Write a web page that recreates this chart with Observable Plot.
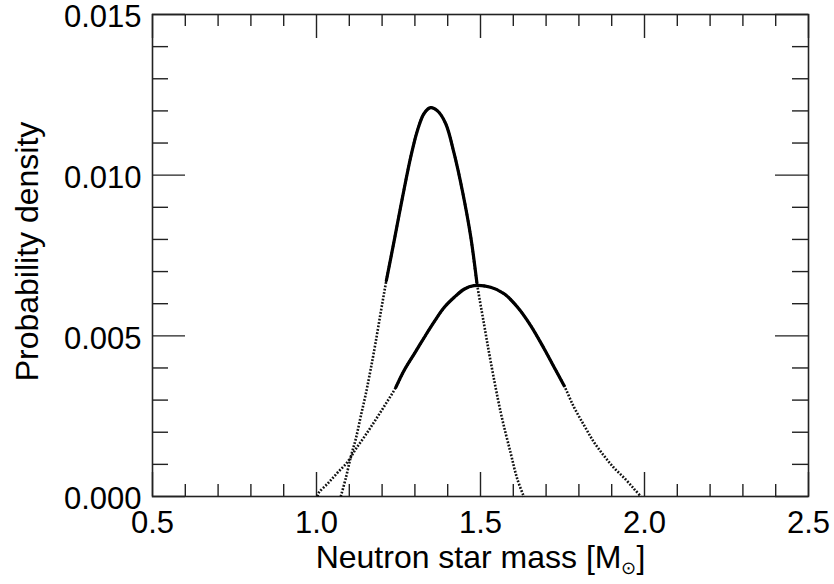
<!DOCTYPE html>
<html>
<head>
<meta charset="utf-8">
<script src="https://cdn.jsdelivr.net/npm/d3@7"></script>
<script src="https://cdn.jsdelivr.net/npm/@observablehq/plot@0.6"></script>
<style>
  html, body { margin: 0; padding: 0; background: #fff; }
  #chart { width: 834px; height: 584px; }
</style>
</head>
<body>
<div id="chart"></div>
<script>
// ---- data ----
const narrowMass = [1.074, 1.090, 1.105, 1.120, 1.135, 1.150, 1.165, 1.180, 1.197, 1.213,
  1.237, 1.262, 1.288, 1.308, 1.328, 1.348, 1.369, 1.394, 1.419, 1.445, 1.470, 1.489,
  1.511, 1.531, 1.562, 1.592, 1.612, 1.632];
const narrowDensity = [0.0, 0.00060, 0.00125, 0.00180, 0.00250, 0.00318, 0.00395, 0.00478, 0.00580, 0.00672,
  0.00797, 0.00930, 0.01060, 0.01140, 0.01192, 0.01210, 0.01200, 0.01160, 0.01070, 0.00950, 0.00810, 0.00665,
  0.00535, 0.00420, 0.00260, 0.00135, 0.00055, 0.0];
const narrowSolid = [1.213, 1.489];

const broadMass = [1.003, 1.008, 1.034, 1.064, 1.095, 1.120, 1.150, 1.181, 1.211, 1.242,
  1.267, 1.298, 1.328, 1.359, 1.389, 1.420, 1.450, 1.480, 1.531, 1.572, 1.613, 1.653, 1.694, 1.730, 1.755,
  1.785, 1.816, 1.846, 1.877, 1.907, 1.938, 1.968, 1.989];
const broadDensity = [0.0, 0.00013, 0.00040, 0.00074, 0.00108, 0.00148, 0.00192, 0.00240, 0.00288, 0.00340,
  0.00392, 0.00444, 0.00494, 0.00544, 0.00588, 0.00620, 0.00645, 0.00656, 0.00651, 0.00631, 0.00589, 0.00532, 0.00460, 0.00392, 0.00345,
  0.00278, 0.00221, 0.00169, 0.00126, 0.00089, 0.00058, 0.00024, 0.0];
const broadSolid = [1.242, 1.755];

const xTickValues = [0.5, 1.0, 1.5, 2.0, 2.5];
const yTickValues = [0.000, 0.005, 0.010, 0.015];
const xLabel = "Neutron star mass [M\u2299]";
const yLabel = "Probability density";

// ---- build tables ----
const rows = (xs, ys) => xs.map((x, i) => ({mass: x, density: ys[i]}));
const narrow = rows(narrowMass, narrowDensity);
const broad = rows(broadMass, broadDensity);
const within = (data, [a, b]) => data.filter(d => d.mass >= a - 1e-9 && d.mass <= b + 1e-9);

const W = 834, H = 584, mL = 152, mR = 26, mT = 14, mB = 88;
const frameW = W - mL - mR, frameH = H - mT - mB;
const near = (v, arr) => arr.some(t => Math.abs(t - v) < 1e-9);
const xMinor = d3.range(5, 26).map(i => i / 10).filter(v => !near(v, xTickValues));
const yMinor = d3.range(0, 16).map(i => i / 1000).filter(v => !near(v, yTickValues));
const xMaj = 24, xMin = 12, yMaj = 33, yMin = 16;
const tickStyle = {stroke: "#222", strokeWidth: 1.4};
const dotted = {stroke: "#111", strokeWidth: 2.6, strokeDasharray: "1.8,1.6", strokeLinecap: "butt", curve: "catmull-rom"};
const solidLine = {stroke: "#000", strokeWidth: 3.2, curve: "catmull-rom"};

const chart = Plot.plot({
  width: W, height: H,
  marginLeft: mL, marginRight: mR, marginTop: mT, marginBottom: mB,
  x: {domain: [0.5, 2.5]},
  y: {domain: [0, 0.015]},
  style: {fontFamily: "'Liberation Sans', Arial, sans-serif", fontSize: "31px", color: "#000", background: "#fff", overflow: "visible"},
  marks: [
    // inward ticks on all four sides
    Plot.tickX(xTickValues, {x: d => d, insetTop: frameH - xMaj, ...tickStyle}),
    Plot.tickX(xTickValues, {x: d => d, insetBottom: frameH - xMaj, ...tickStyle}),
    Plot.tickX(xMinor, {x: d => d, insetTop: frameH - xMin, ...tickStyle}),
    Plot.tickX(xMinor, {x: d => d, insetBottom: frameH - xMin, ...tickStyle}),
    Plot.tickY(yTickValues, {y: d => d, insetRight: frameW - yMaj, ...tickStyle}),
    Plot.tickY(yTickValues, {y: d => d, insetLeft: frameW - yMaj, ...tickStyle}),
    Plot.tickY(yMinor, {y: d => d, insetRight: frameW - yMin, ...tickStyle}),
    Plot.tickY(yMinor, {y: d => d, insetLeft: frameW - yMin, ...tickStyle}),
    Plot.frame({stroke: "#222", strokeWidth: 1.6}),
    // tick labels
    Plot.axisX({ticks: xTickValues, tickSize: 0, tickPadding: 14, tickFormat: d3.format(".1f"), label: null, fontSize: 31}),
    Plot.axisY({ticks: yTickValues, tickSize: 0, tickPadding: 11, dy: 3, tickFormat: d3.format(".3f"), label: null, fontSize: 31}),
    // axis titles
    Plot.text([xLabel], {text: d => d, frameAnchor: "bottom", lineAnchor: "top", dy: 49, fontSize: 32, fill: "#000"}),
    Plot.text([yLabel], {text: d => d, frameAnchor: "left", rotate: -90, lineAnchor: "middle", textAnchor: "middle", dx: -125, dy: -4, fontSize: 32, fill: "#000"}),
    // curves: full extent dotted, central part solid
    Plot.line(narrow, {x: "mass", y: "density", ...dotted}),
    Plot.line(broad, {x: "mass", y: "density", ...dotted}),
    Plot.line(within(narrow, narrowSolid), {x: "mass", y: "density", ...solidLine}),
    Plot.line(within(broad, broadSolid), {x: "mass", y: "density", ...solidLine})
  ]
});

// subscript the solar symbol in the x-axis title
chart.querySelectorAll("text").forEach(t => {
  if (t.textContent === xLabel) {
    const ns = "http://www.w3.org/2000/svg";
    t.textContent = "";
    const a = document.createElementNS(ns, "tspan"); a.textContent = "Neutron star mass [M";
    const b = document.createElementNS(ns, "tspan"); b.textContent = "\u2299"; b.setAttribute("font-size", "18"); b.setAttribute("dy", "6");
    const c = document.createElementNS(ns, "tspan"); c.textContent = "]"; c.setAttribute("dy", "-6");
    t.append(a, b, c);
  }
});

document.getElementById("chart").append(chart);
</script>
</body>
</html>
